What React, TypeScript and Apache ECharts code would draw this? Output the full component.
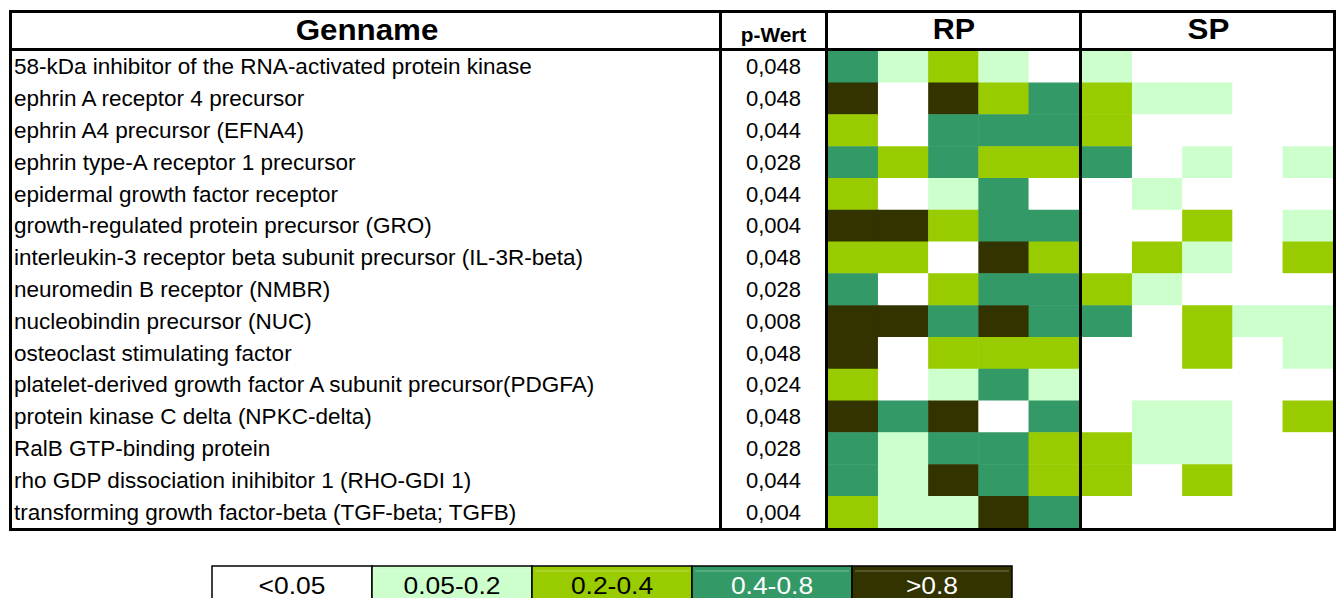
import React, { useEffect, useRef } from "react";
import * as echarts from "echarts";

const genes = [
  "58-kDa inhibitor of the RNA-activated protein kinase",
  "ephrin A receptor 4 precursor",
  "ephrin A4 precursor (EFNA4)",
  "ephrin type-A receptor 1 precursor",
  "epidermal growth factor receptor",
  "growth-regulated protein precursor (GRO)",
  "interleukin-3 receptor beta subunit precursor (IL-3R-beta)",
  "neuromedin B receptor (NMBR)",
  "nucleobindin precursor (NUC)",
  "osteoclast stimulating factor",
  "platelet-derived growth factor A subunit precursor(PDGFA)",
  "protein kinase C delta (NPKC-delta)",
  "RalB GTP-binding protein",
  "rho GDP dissociation inihibitor 1 (RHO-GDI 1)",
  "transforming growth factor-beta (TGF-beta; TGFB)",
];

const pValues = [
  "0,048", "0,048", "0,044", "0,028", "0,044", "0,004", "0,048", "0,028",
  "0,008", "0,048", "0,024", "0,048", "0,028", "0,044", "0,004",
];

const rpColumns = ["RP1", "RP2", "RP3", "RP4", "RP5"];
const spColumns = ["SP1", "SP2", "SP3", "SP4", "SP5"];

// level index: 0 <0.05, 1 0.05-0.2, 2 0.2-0.4, 3 0.4-0.8, 4 >0.8
const rpLevels = [
  [3, 1, 2, 1, 0],
  [4, 0, 4, 2, 3],
  [2, 0, 3, 3, 3],
  [3, 2, 3, 2, 2],
  [2, 0, 1, 3, 0],
  [4, 4, 2, 3, 3],
  [2, 2, 0, 4, 2],
  [3, 0, 2, 3, 3],
  [4, 4, 3, 4, 3],
  [4, 0, 2, 2, 2],
  [2, 0, 1, 3, 1],
  [4, 3, 4, 0, 3],
  [3, 1, 3, 3, 2],
  [3, 1, 4, 3, 2],
  [2, 1, 1, 4, 3],
];

const spLevels = [
  [1, 0, 0, 0, 0],
  [2, 1, 1, 0, 0],
  [2, 0, 0, 0, 0],
  [3, 0, 1, 0, 1],
  [0, 1, 0, 0, 0],
  [0, 0, 2, 0, 1],
  [0, 2, 1, 0, 2],
  [2, 1, 0, 0, 0],
  [3, 0, 2, 1, 1],
  [0, 0, 2, 0, 1],
  [0, 0, 0, 0, 0],
  [0, 1, 1, 0, 2],
  [2, 1, 1, 0, 0],
  [2, 0, 2, 0, 0],
  [0, 0, 0, 0, 0],
];

const legendLabels = ["<0.05", "0.05-0.2", "0.2-0.4", "0.4-0.8", ">0.8"];
const levelColors = ["#ffffff", "#ccffcc", "#99cc00", "#339966", "#333300"];
const legendTextColors = ["#000000", "#000000", "#000000", "#ffffff", "#ffffff"];

const FONT = "'Liberation Sans', Arial, Helvetica, sans-serif";

function toCells(levels: number[][]) {
  const out: number[][] = [];
  levels.forEach((row, y) => row.forEach((v, x) => out.push([x, y, v])));
  return out;
}

export default function App() {
  const ref = useRef<HTMLDivElement>(null);

  useEffect(() => {
    if (!ref.current) return;
    const chart = echarts.init(ref.current, undefined, { renderer: "svg" });

    const TOP = 51;
    const H = 477;
    const L = 10.5, R = 1334.5, T = 11.5, B = 529.5;
    const lineStyle = { stroke: "#000", lineWidth: 3 };
    const vline = (x: number) => ({
      type: "line",
      shape: { x1: x, y1: T - 1.5, x2: x, y2: B + 1.5 },
      style: lineStyle,
      z: 100,
    });
    const hline = (y: number) => ({
      type: "line",
      shape: { x1: L - 1.5, y1: y, x2: R + 1.5, y2: y },
      style: lineStyle,
      z: 100,
    });

    const legendX0 = 212;
    const legendW = 160;
    const legendY = 566;
    const legendElems: any[] = [];
    legendLabels.forEach((lab, i) => {
      legendElems.push({
        type: "rect",
        shape: { x: legendX0 + i * legendW, y: legendY, width: legendW, height: 40 },
        style: { fill: levelColors[i], stroke: "#000", lineWidth: 1.5 },
        z: 50,
      });
      if (i > 0) {
        legendElems.push({
          type: "line",
          shape: {
            x1: legendX0 + i * legendW + 3,
            y1: legendY + 5,
            x2: legendX0 + (i + 1) * legendW - 3,
            y2: legendY + 5,
          },
          style: { stroke: "rgba(255,255,255,0.35)", lineWidth: 1 },
          z: 51,
        });
      }
      legendElems.push({
        type: "text",
        x: legendX0 + i * legendW + legendW / 2,
        y: 585,
        scaleX: 1.1,
        style: {
          text: lab,
          fill: legendTextColors[i],
          font: `24px ${FONT}`,
          align: "center",
          verticalAlign: "middle",
        },
        z: 52,
      });
    });

    const headerText = (text: string, x: number, y: number, size: number, sx: number) => ({
      type: "text",
      x,
      y,
      scaleX: sx,
      style: {
        text,
        fill: "#000",
        font: `bold ${size}px ${FONT}`,
        align: "center",
        verticalAlign: "middle",
      },
      z: 60,
    });

    chart.setOption({
      animation: false,
      backgroundColor: "#ffffff",
      grid: [
        { left: 828, top: TOP, width: 251, height: H },
        { left: 1082, top: TOP, width: 251, height: H },
      ],
      xAxis: [
        { type: "category", data: rpColumns, gridIndex: 0, show: false },
        { type: "category", data: spColumns, gridIndex: 1, show: false },
      ],
      yAxis: [
        {
          type: "category",
          data: genes,
          gridIndex: 0,
          inverse: true,
          axisLine: { show: false },
          axisTick: { show: false },
          splitLine: { show: false },
          axisLabel: {
            interval: 0,
            align: "left",
            margin: 828 - 14,
            fontSize: 22.5,
            fontFamily: FONT,
            color: "#000",
          },
        },
        {
          type: "category",
          data: pValues,
          gridIndex: 0,
          position: "left",
          inverse: true,
          axisLine: { show: false },
          axisTick: { show: false },
          splitLine: { show: false },
          axisLabel: {
            interval: 0,
            align: "center",
            margin: 828 - 773.5,
            fontSize: 22,
            fontFamily: FONT,
            color: "#000",
          },
        },
        {
          type: "category",
          data: genes,
          gridIndex: 1,
          inverse: true,
          show: false,
        },
      ],
      visualMap: {
        type: "piecewise",
        show: false,
        dimension: 2,
        seriesIndex: [0, 1],
        pieces: levelColors.map((c, i) => ({ value: i, color: c })),
      },
      series: [
        {
          type: "heatmap",
          xAxisIndex: 0,
          yAxisIndex: 0,
          data: toCells(rpLevels),
          itemStyle: { borderWidth: 0 },
          emphasis: { disabled: true },
        },
        {
          type: "heatmap",
          xAxisIndex: 1,
          yAxisIndex: 2,
          data: toCells(spLevels),
          itemStyle: { borderWidth: 0 },
          emphasis: { disabled: true },
        },
      ],
      graphic: [
        hline(T),
        hline(49.5),
        hline(B),
        vline(L),
        vline(720.5),
        vline(826.5),
        vline(1080.5),
        vline(R),
        headerText("Genname", 367, 30, 29, 1.08),
        headerText("p-Wert", 773.5, 35, 20, 1.04),
        headerText("RP", 954, 29, 29, 1.05),
        headerText("SP", 1208.5, 29, 29, 1.08),
        ...legendElems,
      ],
    });

    return () => chart.dispose();
  }, []);

  return (
    <div
      ref={ref}
      style={{ position: "fixed", left: 0, top: 0, width: 1341, height: 598 }}
    />
  );
}
